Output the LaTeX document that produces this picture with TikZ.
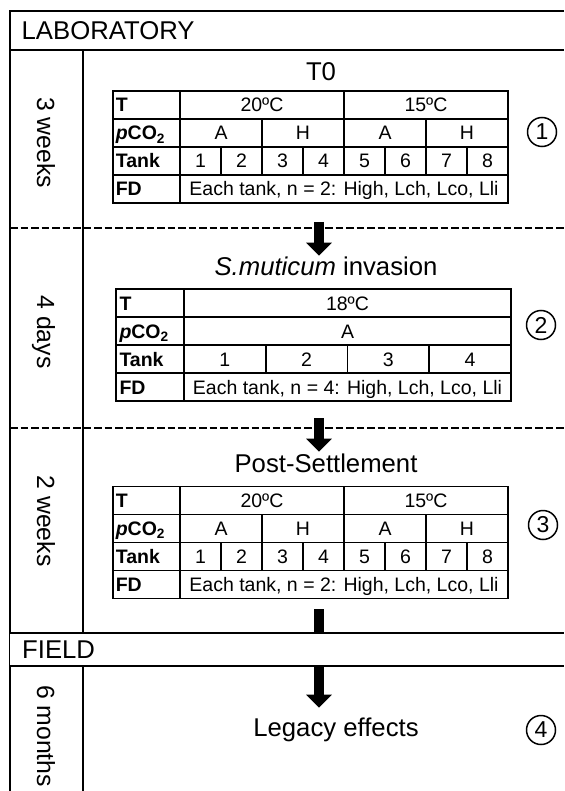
\documentclass[tikz,border=0pt]{standalone}
\usepackage{fontspec}
\setmainfont{Liberation Sans}
\usetikzlibrary{arrows.meta, calc}
\newcommand{\tabfont}{\fontsize{19.5}{22}\selectfont}
\newcommand{\headfont}{\fontsize{25.7}{29}\selectfont}
\newcommand{\periodfont}{\fontsize{24.8}{28}\selectfont}
\tikzset{
    % frame and phase separators
    frame/.style={line width=2.2pt, line join=miter},
    phase/.style={line width=1.6pt, dash pattern=on 7.5pt off 3pt},
    % table cells
    cell/.style={
        draw,
        line width=1.9pt,
        inner sep=0pt,
        minimum height=28pt,
        text height=14pt,
        text depth=0pt,
        font=\tabfont
    },
    lblcell/.style={
        cell,
        minimum width=67.4pt,
        text width=61pt,
        align=left,
        font=\tabfont\bfseries
    },
    % texts
    heading/.style={anchor=base, inner sep=1.5pt, font=\headfont},
    section/.style={anchor=base west, inner sep=0pt, font=\headfont},
    period/.style={anchor=base, rotate=-90, inner sep=0pt, font=\periodfont},
    stepnum/.style={
        circle,
        draw,
        line width=1.5pt,
        minimum size=29pt,
        inner sep=0pt,
        font=\fontsize{23}{23}\selectfont
    },
    % block arrows
    bigarrow/.style={line width=10.5pt, -{Triangle[width=25pt, length=13pt]}}
}

\begin{document}
\begin{tikzpicture}[x=1pt, y=-1pt]
    \useasboundingbox (0,0) rectangle (564,791);

    % outer frame
    \draw[frame] (564,11) -- (10,11) -- (10,791);
    \draw[frame] (10,50) -- (564,50);
    \draw[frame] (83,50) -- (83,633);
    \draw[frame] (83,666) -- (83,791);
    \draw[phase] (10,228) -- (564,228);
    \draw[phase] (10,428) -- (564,428);

    % tables of the two 8-tank phases
    \foreach \tb/\tx/\ty in {t1/112.6/91, t3/112.6/486.5}{
        \node[lblcell] (\tb-lT) at (\tx+33.7, \ty+14) {T};
        \node[lblcell] (\tb-lco) at (\tx+33.7, \ty+42) {\textit{p}CO\textsubscript{2}};
        \node[lblcell] (\tb-ltank) at (\tx+33.7, \ty+70) {Tank};
        \node[lblcell] (\tb-lfd) at (\tx+33.7, \ty+98) {FD};
        \foreach \temp [count=\i] in {20ºC, 15ºC}
            \node[cell, minimum width=164pt] (\tb-temp\i) at (\tx+67.4+164*\i-82, \ty+14) {\temp};
        \foreach \co [count=\i] in {A, H, A, H}
            \node[cell, minimum width=82pt] (\tb-pco\i) at (\tx+67.4+82*\i-41, \ty+42) {\co};
        \foreach \i in {1,...,8}
            \node[cell, minimum width=41pt] (\tb-tank\i) at (\tx+67.4+41*\i-20.5, \ty+70) {\i};
        \node[cell, minimum width=328pt] (\tb-fd) at (\tx+231.4, \ty+98) {Each tank, n = 2: High, Lch, Lco, Lli};
    }

    % table of the invasion phase
    \node[lblcell, minimum width=68pt] (t2-lT) at (150,303) {T};
    \node[lblcell, minimum width=68pt] (t2-lco) at (150,331) {\textit{p}CO\textsubscript{2}};
    \node[lblcell, minimum width=68pt] (t2-ltank) at (150,359) {Tank};
    \node[lblcell, minimum width=68pt] (t2-lfd) at (150,387) {FD};
    \node[cell, minimum width=327pt] (t2-temp) at (347.5,303) {18ºC};
    \node[cell, minimum width=327pt] (t2-pco) at (347.5,331) {A};
    \foreach \i in {1,...,4}
        \node[cell, minimum width=81.75pt] (t2-tank\i) at (184+81.75*\i-40.875, 359) {\i};
    \node[cell, minimum width=327pt] (t2-fd) at (347.5,387) {Each tank, n = 4: High, Lch, Lco, Lli};

    % phase titles
    \node[heading] (t0) at (321,81) {T0};
    \node[heading] (inv) at (326,276) {\textit{S.muticum} invasion};
    \node[heading] (post) at (326,472) {Post-Settlement};
    \node[heading] (legacy) at (336,736) {Legacy effects};

    % arrows between phases
    \coordinate (a1) at (319,222);
    \coordinate (a2) at (319,418);
    \coordinate (a3) at (319,609);
    \draw[bigarrow] (a1) -- (a1 |- inv.north);
    \draw[bigarrow] (a2) -- (a2 |- post.north);
    \draw[bigarrow, shorten >=8pt] (a3) -- (a3 |- legacy.north);

    % field band
    \fill[white] (10,633) rectangle (564,666);
    \draw[frame] (10,633) -- (564,633);
    \draw[frame] (10,666) -- (564,666);

    \node[section] (lab) at (21.5,40) {LABORATORY};
    \node[section] (field) at (22,658) {FIELD};

    % durations
    \node[period] (p1) at (37,142.5) {3 weeks};
    \node[period] (p2) at (37,332) {4 days};
    \node[period] (p3) at (37,521) {2 weeks};
    \node[period] (p4) at (37,736) {6 months};

    % step numbers
    \node[stepnum] (s1) at (542,132) {1};
    \node[stepnum] (s2) at (541,325) {2};
    \node[stepnum] (s3) at (543,525) {3};
    \node[stepnum] (s4) at (541,730) {4};
\end{tikzpicture}
\end{document}
